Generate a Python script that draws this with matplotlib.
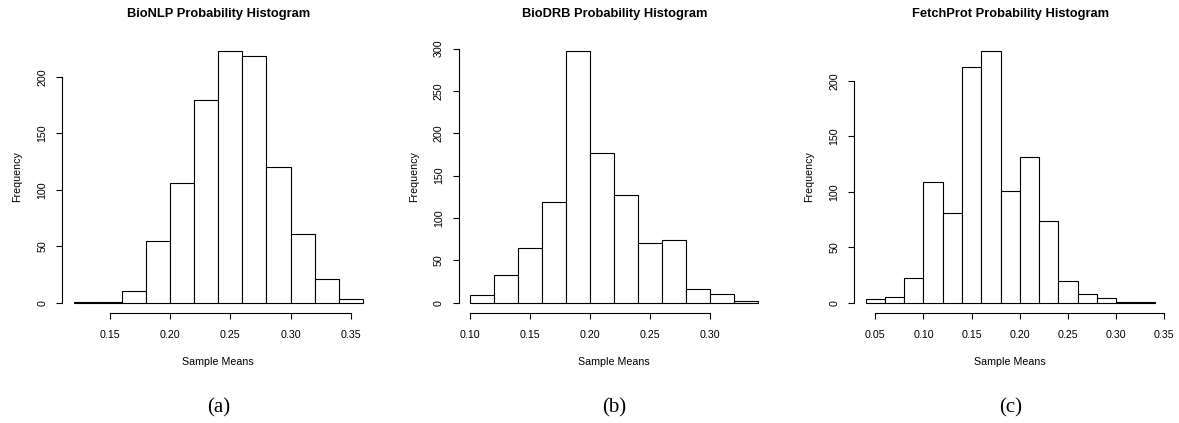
import numpy as np
import matplotlib
matplotlib.use("Agg")
import matplotlib.pyplot as plt

plt.rcParams['font.family'] = ['Liberation Sans', 'DejaVu Sans']

# histogram counts (bin width 0.02)
titles = ["BioNLP Probability Histogram", "BioDRB Probability Histogram",
          "FetchProt Probability Histogram"]
panel_tags = ["(a)", "(b)", "(c)"]

bionlp_start = 0.12
bionlp_counts = [1, 1, 10, 55, 106, 180, 223, 219, 120, 61, 21, 3]

biodrb_start = 0.10
biodrb_counts = [9, 33, 65, 119, 297, 177, 127, 71, 74, 16, 10, 2]

fetch_start = 0.04
fetch_counts = [3, 5, 22, 109, 81, 213, 227, 101, 131, 74, 20, 8, 4, 1, 1]

bin_width = 0.02

xticks_list = [[0.15, 0.20, 0.25, 0.30, 0.35],
               [0.10, 0.15, 0.20, 0.25, 0.30],
               [0.05, 0.10, 0.15, 0.20, 0.25, 0.30, 0.35]]
yticks_list = [[0, 50, 100, 150, 200],
               [0, 50, 100, 150, 200, 250, 300],
               [0, 50, 100, 150, 200]]

starts = [bionlp_start, biodrb_start, fetch_start]
counts = [bionlp_counts, biodrb_counts, fetch_counts]

W, H = 1179, 423
fig = plt.figure(figsize=(W / 100, H / 100), dpi=100)

# axes boxes in pixels (left, right), R-like plot regions
lefts = [62.3, 458.5, 854.1]
rights = [374.3, 769.9, 1166.2]
top_px, bot_px = 41.0, 312.8

for i in range(3):
    l, r = lefts[i], rights[i]
    ax = fig.add_axes([l / W, 1 - bot_px / H, (r - l) / W, (bot_px - top_px) / H])
    c = np.array(counts[i])
    edges = starts[i] + bin_width * np.arange(len(c) + 1)
    ax.bar(edges[:-1], c, width=bin_width, align='edge', color='white',
           edgecolor='black', linewidth=0.8)

    # R style 4% padding
    x0, x1 = edges[0], edges[-1]
    dx = (x1 - x0) * 0.04
    ax.set_xlim(x0 - dx, x1 + dx)
    ymax = c.max()
    dy = ymax * 0.04
    ax.set_ylim(-dy, ymax + dy)

    for s in ['top', 'right']:
        ax.spines[s].set_visible(False)
    ax.spines['bottom'].set_bounds(xticks_list[i][0], xticks_list[i][-1])
    ax.spines['left'].set_bounds(yticks_list[i][0], yticks_list[i][-1])
    ax.spines['bottom'].set_linewidth(0.8)
    ax.spines['left'].set_linewidth(0.8)

    ax.set_xticks(xticks_list[i])
    ax.set_xticklabels(["%.2f" % v for v in xticks_list[i]])
    ax.set_yticks(yticks_list[i])
    ax.set_yticklabels([str(v) for v in yticks_list[i]], rotation=90, va='center')
    ax.tick_params(axis='both', direction='out', length=4.5, width=0.8,
                   labelsize=7.7)
    ax.tick_params(axis='x', pad=8)
    ax.tick_params(axis='y', pad=6)

    ax.set_title(titles[i], fontsize=9.3, fontweight='bold', pad=0, y=1.0)
    ax.title.set_position((0.5, 1 + (top_px - 13.5) / (bot_px - top_px)))
    ax.title.set_va('center')

    ax.set_xlabel("Sample Means", fontsize=7.7, labelpad=12)
    ax.set_ylabel("Frequency", fontsize=7.7, labelpad=11)

    fig.text((l + r) / 2 / W, 1 - 408 / H, panel_tags[i], ha='center', va='center',
             fontsize=15, family='Liberation Serif')

fig.savefig("out.png", dpi=100)
